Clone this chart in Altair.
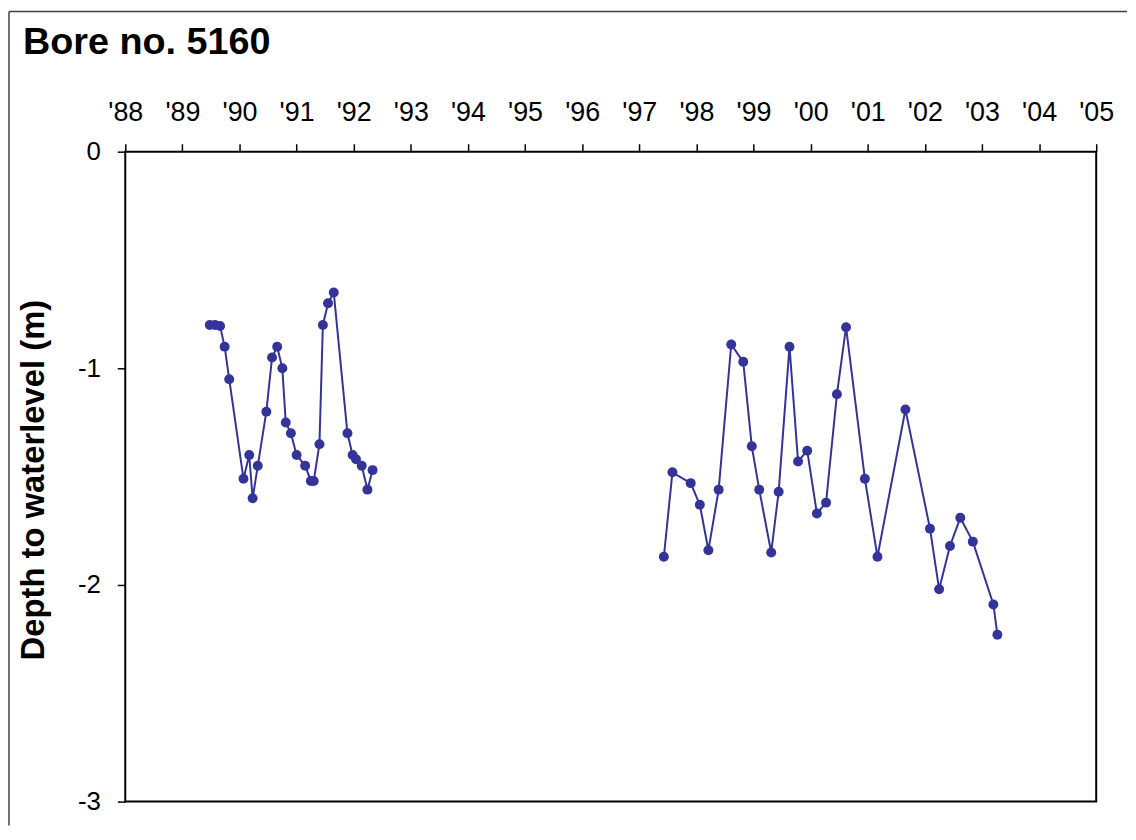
import altair as alt
import pandas as pd

TITLE = "Bore no. 5160"
Y_TITLE = "Depth to waterlevel (m)"

# Segment 1 (1989-1992)
years1 = [1989.48, 1989.57, 1989.66, 1989.74, 1989.82, 1990.07, 1990.17, 1990.23, 1990.32,
          1990.47, 1990.57, 1990.66, 1990.75, 1990.81, 1990.90, 1991.00, 1991.15, 1991.25,
          1991.30, 1991.40, 1991.46, 1991.55, 1991.65, 1991.89, 1991.98, 1992.04, 1992.14,
          1992.24, 1992.33]
depth1 = [-0.80, -0.80, -0.805, -0.90, -1.05, -1.51, -1.40, -1.60, -1.45,
          -1.20, -0.95, -0.90, -1.00, -1.25, -1.30, -1.40, -1.45, -1.52,
          -1.52, -1.35, -0.80, -0.70, -0.65, -1.30, -1.40, -1.42, -1.45,
          -1.56, -1.47]

# Segment 2 (1997-2003)
years2 = [1997.43, 1997.58, 1997.90, 1998.06, 1998.21, 1998.39, 1998.61, 1998.82, 1998.97,
          1999.10, 1999.31, 1999.44, 1999.63, 1999.78, 1999.94, 2000.11, 2000.27, 2000.46,
          2000.62, 2000.95, 2001.17, 2001.66, 2002.09, 2002.25, 2002.44, 2002.62, 2002.84,
          2003.20, 2003.27]
depth2 = [-1.87, -1.48, -1.53, -1.63, -1.84, -1.56, -0.89, -0.97, -1.36,
          -1.56, -1.85, -1.57, -0.90, -1.43, -1.38, -1.67, -1.62, -1.12,
          -0.81, -1.51, -1.87, -1.19, -1.74, -2.02, -1.82, -1.69, -1.80,
          -2.09, -2.23]

x_ticks = list(range(1988, 2006))
y_ticks = [0, -1, -2, -3]

df = pd.DataFrame({
    "year": years1 + years2,
    "depth": depth1 + depth2,
    "segment": ["a"] * len(years1) + ["b"] * len(years2),
})

COLOR = "#333399"
FONT = "Liberation Sans"

x_enc = alt.X("year:Q",
              scale=alt.Scale(domain=[1988, 2005], nice=False, zero=False),
              axis=alt.Axis(orient="top", values=x_ticks, title=None, grid=False, domain=False,
                            labelExpr="\"'\" + substring(toString(datum.value), 2, 4)",
                            labelFontSize=27, labelPadding=17, tickSize=8,
                            labelFlush=False, labelOverlap=False))
y_enc = alt.Y("depth:Q",
              scale=alt.Scale(domain=[-3, 0], nice=False, zero=False),
              axis=alt.Axis(values=y_ticks, title=Y_TITLE, grid=False, domain=False,
                            labelExpr="toString(datum.value)",
                            labelFontSize=26, labelPadding=17, tickSize=8,
                            titleFontSize=33, titleFontWeight="bold",
                            titleX=-92, titleY=330, titleAngle=270,
                            titleBaseline="middle", titleAlign="center"))

base = alt.Chart(df)
line = base.mark_line(color=COLOR, strokeWidth=2).encode(x=x_enc, y=y_enc, detail="segment:N")
pts = base.mark_circle(color=COLOR, size=100, opacity=1).encode(x="year:Q", y="depth:Q")

title_df = pd.DataFrame({"t": [TITLE]})
title = alt.Chart(title_df).mark_text(
    font=FONT, fontSize=38, fontWeight="bold", align="left", baseline="alphabetic", color="black"
).encode(text="t:N", x=alt.value(-103), y=alt.value(-98))

border_left = alt.Chart(title_df).mark_rule(color="#404040", strokeWidth=1.5).encode(
    x=alt.value(-117), y=alt.value(-141), y2=alt.value(678))
border_top = alt.Chart(title_df).mark_rule(color="#404040", strokeWidth=1.5).encode(
    x=alt.value(-117), x2=alt.value(1008), y=alt.value(-141))

chart = alt.layer(border_left, border_top, line, pts, title).properties(
    width=977, height=654, padding=0, background="white"
).configure_view(
    stroke="black", strokeWidth=2
).configure_axis(
    grid=False, domain=False, tickColor="black", tickWidth=1.5,
    labelColor="black", titleColor="black", labelFont=FONT, titleFont=FONT
)

chart.save("out.html", embed_options={"renderer": "svg", "actions": False})
